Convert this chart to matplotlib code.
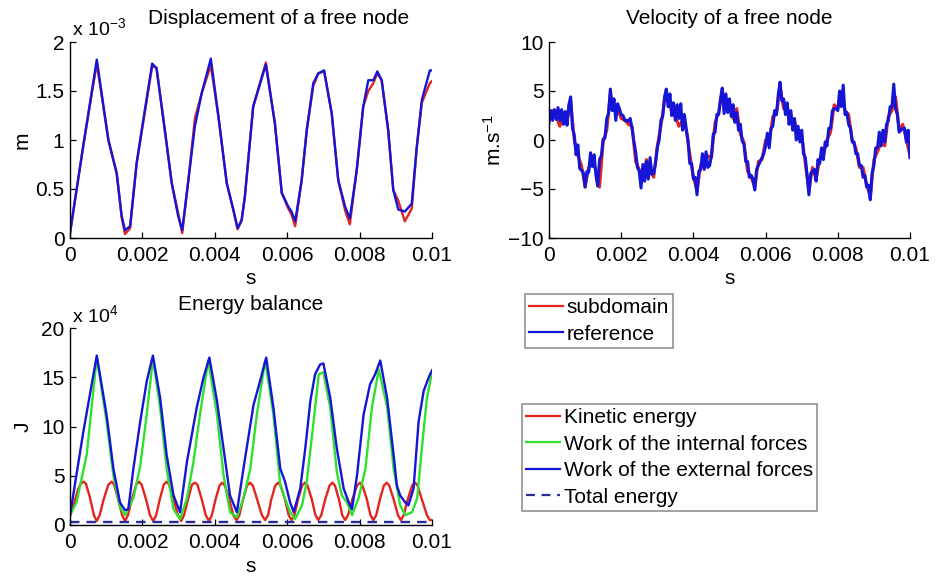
import numpy as np
import matplotlib
matplotlib.use("Agg")
import matplotlib.pyplot as plt
from matplotlib.ticker import FixedLocator, FixedFormatter

plt.rcParams['font.family'] = ['Liberation Sans', 'DejaVu Sans']
plt.rcParams['mathtext.fontset'] = 'custom'
plt.rcParams['mathtext.rm'] = 'Liberation Sans'
plt.rcParams['mathtext.it'] = 'Liberation Sans'

# ---------------- data (time in ms) ----------------
disp_t_ms = [0, 0.37, 0.74, 1.06, 1.29, 1.43, 1.52, 1.66, 1.84, 1.98,
             2.27, 2.39, 2.62, 2.81, 2.99, 3.10, 3.27, 3.45, 3.64, 3.89,
             4.10, 4.33, 4.51, 4.63, 4.74, 4.83, 5.06, 5.41, 5.66, 5.85,
             6.03, 6.12, 6.22, 6.40, 6.54, 6.72, 6.86, 7.02, 7.23, 7.41,
             7.60, 7.73, 7.92, 8.10, 8.24, 8.38, 8.49, 8.61, 8.79, 8.93,
             9.07, 9.25, 9.44, 9.58, 9.72, 9.94, 10.0]
disp_reference = [0.05, 0.95, 1.82, 1.0, 0.66, 0.22, 0.08, 0.12, 0.76, 1.1,
                  1.78, 1.73, 1.1, 0.56, 0.22, 0.08, 0.59, 1.14, 1.48, 1.83,
                  1.24, 0.56, 0.29, 0.10, 0.18, 0.42, 1.34, 1.77, 1.17, 0.46,
                  0.32, 0.27, 0.17, 0.59, 1.1, 1.58, 1.68, 1.71, 1.27, 0.59,
                  0.32, 0.20, 0.69, 1.34, 1.61, 1.61, 1.70, 1.61, 1.1, 0.49,
                  0.29, 0.27, 0.35, 0.93, 1.41, 1.71, 1.71]
disp_subdomain = [0.05, 0.95, 1.78, 1.0, 0.66, 0.20, 0.04, 0.10, 0.76, 1.08,
                  1.75, 1.74, 1.1, 0.56, 0.25, 0.05, 0.59, 1.22, 1.48, 1.76,
                  1.24, 0.56, 0.29, 0.09, 0.18, 0.42, 1.34, 1.79, 1.17, 0.46,
                  0.30, 0.24, 0.12, 0.59, 1.1, 1.55, 1.68, 1.70, 1.27, 0.59,
                  0.28, 0.14, 0.69, 1.34, 1.50, 1.58, 1.68, 1.61, 1.1, 0.49,
                  0.38, 0.17, 0.30, 0.93, 1.38, 1.58, 1.60]

vel_ref_t_ms = [i * 0.05 for i in range(201)]
vel_reference = [1.8, 3.0, 2.0, 3.1, 2.1, 3.3, 2.0, 3.1, 1.6, 2.9,
                 1.5, 3.6, 4.4, 1.2, 0.5, -1.5, -0.5, -2.9, -3.1, -3.3,
                 -4.8, -3.2, -3.3, -1.3, -2.7, -1.5, -3.6, -4.7, -2.0, -1.6,
                 0.1, 0.2, 2.2, 2.7, 5.2, 3.0, 4.2, 2.0, 3.7, 3.2,
                 2.6, 2.5, 2.0, 2.0, 1.9, 2.2, 1.2, -0.1, -1.2, -2.8,
                 -3.2, -4.9, -2.5, -4.2, -2.2, -4.0, -1.8, -3.5, -3.4, -2.4,
                 -0.8, 0.0, 2.0, 2.4, 4.4, 5.2, 3.4, 4.7, 2.5, 3.8,
                 2.0, 3.6, 2.2, 3.7, 1.0, 2.6, 1.2, 0.0, -2.4, -2.4,
                 -4.0, -3.8, -5.6, -3.2, -3.0, -1.4, -3.0, -1.2, -2.8, -2.6,
                 -1.6, 0.6, 0.8, 2.6, 2.6, 4.2, 5.3, 2.7, 4.7, 2.8,
                 4.2, 2.4, 3.6, 1.8, 2.8, 1.0, 1.6, -0.1, -0.4, -2.2,
                 -2.2, -3.8, -3.6, -4.0, -5.1, -3.0, -2.6, -2.2, -1.8, -1.4,
                 -0.6, 0.7, -0.8, 1.2, 1.4, 3.0, 2.6, 4.6, 5.9, 4.0,
                 4.2, 2.6, 3.8, 1.6, 3.0, 1.0, 2.2, 0.0, 1.4, -0.2,
                 1.0, -1.4, -1.8, -3.6, -5.6, -3.4, -3.2, -3.0, -4.2, -2.0,
                 -2.4, -0.8, -2.0, -0.2, -0.6, 1.2, 1.2, 3.0, 3.2, 3.2,
                 3.0, 5.0, 3.4, 5.6, 2.6, 2.8, 1.6, 1.2, -0.2, -0.2,
                 -1.4, -1.4, -2.6, -2.6, -3.8, -3.6, -4.8, -4.6, -6.1, -3.4,
                 -2.6, -0.8, -0.8, 0.8, -0.6, 1.0, -0.2, 1.6, 2.0, 3.4,
                 3.4, 5.7, 3.2, 2.6, 0.8, 1.0, 1.2, 1.2, -0.2, 1.0,
                 -1.8]
vel_sub_t_ms = [i * 0.1 for i in range(101)]
vel_subdomain = [2.2, 3.0, 2.4, 1.4, 2.8, 2.0, 4.0, 0.0, -1.6, -2.6,
                 -4.8, -2.8, -2.4, -3.0, -4.8, -0.2, 1.0, 4.8, 3.0, 3.2,
                 2.2, 2.0, 1.6, 1.4, -2.2, -3.0, -3.8, -2.0, -3.2, -3.8,
                 -0.6, 1.4, 4.0, 4.6, 2.8, 2.4, 1.4, 2.0, 1.0, -1.4,
                 -3.8, -5.2, -2.6, -2.8, -1.6, -1.8, 1.8, 2.8, 5.0, 3.4,
                 3.4, 2.2, 3.2, 0.6, -0.2, -3.2, -3.8, -4.8, -2.2, -2.0,
                 0.0, -0.2, 2.4, 2.6, 5.4, 3.2, 3.2, 1.8, 2.0, 0.4,
                 0.6, -2.4, -5.2, -2.8, -4.0, -2.0, -1.6, 0.0, 0.8, 3.6,
                 3.2, 4.8, 3.0, 2.6, 0.0, -0.8, -2.8, -2.8, -4.6, -5.8,
                 -2.0, -1.2, -0.2, -0.6, 2.4, 3.0, 4.4, 1.0, 1.6, 0.0,
                 -1.6]

kin_t_ms = [0.00, 0.10, 0.22, 0.30, 0.37, 0.44, 0.55, 0.66, 0.74, 0.82,
            0.93, 1.06, 1.15, 1.22, 1.33, 1.44, 1.52, 1.60, 1.71, 1.83,
            1.91, 1.98, 2.10, 2.21, 2.30, 2.38, 2.48, 2.59, 2.67, 2.74,
            2.86, 2.98, 3.07, 3.15, 3.26, 3.37, 3.45, 3.52, 3.64, 3.75,
            3.84, 3.92, 4.02, 4.13, 4.21, 4.28, 4.40, 4.51, 4.60, 4.68,
            4.78, 4.89, 4.97, 5.05, 5.17, 5.30, 5.39, 5.47, 5.56, 5.67,
            5.75, 5.82, 5.94, 6.04, 6.12, 6.20, 6.30, 6.41, 6.49, 6.56,
            6.68, 6.78, 6.86, 6.94, 7.05, 7.17, 7.25, 7.32, 7.43, 7.52,
            7.60, 7.68, 7.80, 7.93, 8.01, 8.08, 8.20, 8.30, 8.38, 8.46,
            8.56, 8.67, 8.75, 8.82, 8.94, 9.06, 9.14, 9.22, 9.33, 9.45,
            9.53, 9.60, 9.72, 9.86, 9.94, 10.00]
kinetic_energy = [0.9, 2.0, 3.6, 4.2, 4.4, 4.2, 2.8, 1.0, 0.4, 1.0,
                  2.6, 4.1, 4.4, 4.1, 2.6, 1.0, 0.4, 1.0, 2.6, 4.1,
                  4.4, 4.1, 2.6, 1.0, 0.4, 1.0, 2.6, 4.1, 4.4, 4.1,
                  2.6, 1.0, 0.4, 1.0, 2.6, 4.1, 4.3, 4.1, 2.6, 1.0,
                  0.4, 1.0, 2.6, 4.0, 4.3, 4.0, 2.6, 1.0, 0.5, 1.0,
                  2.6, 4.0, 4.3, 4.0, 2.6, 1.0, 0.5, 1.0, 2.6, 4.0,
                  4.3, 4.0, 2.6, 1.0, 0.5, 1.0, 2.6, 4.0, 4.3, 4.0,
                  2.6, 1.0, 0.5, 1.0, 2.6, 4.0, 4.3, 4.0, 2.6, 1.0,
                  0.5, 1.0, 2.6, 4.0, 4.3, 4.0, 2.6, 1.0, 0.5, 1.0,
                  2.6, 4.0, 4.3, 4.0, 2.6, 1.0, 0.5, 1.0, 2.6, 4.0,
                  4.3, 4.0, 2.6, 1.0, 0.5, 0.5]

int_t_ms = [0, 0.18, 0.46, 0.74, 1.01, 1.20, 1.38, 1.52, 1.75, 1.94,
            2.12, 2.29, 2.49, 2.67, 2.86, 3.04, 3.23, 3.41, 3.59, 3.82,
            4.06, 4.24, 4.42, 4.61, 4.79, 4.98, 5.16, 5.39, 5.62, 5.81,
            5.94, 6.08, 6.22, 6.41, 6.54, 6.73, 6.87, 7.00, 7.19, 7.37,
            7.51, 7.65, 7.79, 7.97, 8.16, 8.34, 8.53, 8.76, 8.94, 9.12,
            9.26, 9.45, 9.59, 9.72, 9.86, 10.0]
internal_work = [1.0, 2.3, 7.1, 17.0, 10.5, 5.0, 1.8, 1.0, 2.7, 6.0,
                 11.2, 16.9, 11.9, 5.7, 1.6, 0.6, 2.7, 6.4, 11.2, 16.7,
                 11.2, 5.1, 1.3, 0.8, 2.7, 5.7, 11.2, 16.7, 11.2, 4.0,
                 2.7, 1.3, 0.6, 2.0, 4.4, 10.5, 15.3, 15.5, 11.9, 5.4,
                 3.0, 2.3, 1.0, 2.7, 5.7, 11.9, 15.8, 12.0, 5.7, 2.0,
                 1.0, 1.3, 2.7, 7.8, 12.9, 15.5]

ext_t_ms = [0, 0.37, 0.74, 1.01, 1.20, 1.38, 1.52, 1.61, 1.75, 1.94,
            2.12, 2.29, 2.49, 2.67, 2.86, 3.04, 3.23, 3.50, 3.69, 3.85,
            4.06, 4.24, 4.42, 4.61, 4.79, 5.07, 5.25, 5.42, 5.62, 5.81,
            5.94, 6.08, 6.18, 6.36, 6.50, 6.64, 6.77, 6.91, 7.00, 7.19,
            7.37, 7.56, 7.70, 7.79, 7.93, 8.11, 8.29, 8.43, 8.57, 8.76,
            8.94, 9.03, 9.12, 9.26, 9.35, 9.49, 9.63, 9.77, 9.91, 10.0]
external_work = [1.0, 9.5, 17.2, 11.2, 5.7, 2.3, 1.5, 1.6, 5.7, 10.5,
                 14.6, 17.2, 12.9, 7.1, 3.0, 1.3, 6.4, 11.9, 15.0, 17.0,
                 12.6, 7.8, 3.0, 1.3, 5.7, 12.2, 14.6, 17.0, 11.9, 5.7,
                 4.4, 2.3, 1.3, 3.7, 7.8, 12.6, 15.3, 16.3, 16.4, 12.9,
                 7.8, 3.7, 2.3, 1.6, 5.1, 11.2, 14.3, 15.3, 16.7, 12.9,
                 7.1, 4.0, 3.0, 2.3, 2.0, 3.7, 10.5, 13.6, 15.0, 15.7]

tot_t_ms = [0, 10.0]
total_energy = [0.3, 0.3]

xticks = [0, 0.002, 0.004, 0.006, 0.008, 0.01]
xticklabels = ['0', '0.002', '0.004', '0.006', '0.008', '0.01']

# ---------------- styling ----------------
RED = '#e3241f'
BLUE = '#1515d8'
GREEN = '#2fe02f'
DASH = '#2a2a9a'
FS = 15

fig = plt.figure(figsize=(9.4, 5.76), dpi=100)
W, H = 940.0, 576.0


def make_ax(l, t, r, b):
    ax = fig.add_axes([l / W, 1 - b / H, (r - l) / W, (b - t) / H])
    for s in ['top', 'right']:
        ax.spines[s].set_visible(False)
    for s in ['left', 'bottom']:
        ax.spines[s].set_linewidth(1.0)
    ax.tick_params(direction='in', length=4, width=0.9, labelsize=FS, pad=4)
    ax.tick_params(axis='x', pad=6)
    ax.set_xlim(0, 0.01)
    ax.xaxis.set_major_locator(FixedLocator(xticks))
    ax.xaxis.set_major_formatter(FixedFormatter(xticklabels))
    ax.set_xlabel('s', fontsize=FS, labelpad=3)
    return ax


def ms(v):
    return np.asarray(v) * 1e-3


# Displacement
ax1 = make_ax(70, 42, 432, 238)
ax1.plot(ms(disp_t_ms), disp_subdomain, color=RED, lw=1.7)
ax1.plot(ms(disp_t_ms), disp_reference, color=BLUE, lw=1.7)
ax1.set_ylim(0, 2)
ax1.set_yticks([0, 0.5, 1, 1.5, 2])
ax1.set_yticklabels(['0', '0.5', '1', '1.5', '2'])
ax1.set_ylabel('m', fontsize=FS, labelpad=3)
ax1.set_title('Displacement of a free node', fontsize=FS, x=0.575, pad=13)
ax1.text(0.005, 1.035, r'x 10$^{-3}$', transform=ax1.transAxes,
         fontsize=FS - 1, ha='left', va='baseline')

# Velocity
ax2 = make_ax(549, 42, 910, 238)
l_sub, = ax2.plot(ms(vel_sub_t_ms), vel_subdomain, color=RED, lw=2.2)
l_ref, = ax2.plot(ms(vel_ref_t_ms), vel_reference, color=BLUE, lw=2.2)
ax2.set_ylim(-10, 10)
ax2.set_yticks([-10, -5, 0, 5, 10])
ax2.set_yticklabels(['\u221210', '\u22125', '0', '5', '10'])
ax2.set_ylabel(r'm.s$^{-1}$', fontsize=FS, labelpad=2)
ax2.set_title('Velocity of a free node', fontsize=FS, pad=13)

# Energy
ax3 = make_ax(70, 328, 432, 525)
l_kin, = ax3.plot(ms(kin_t_ms), kinetic_energy, color=RED, lw=1.7)
l_int, = ax3.plot(ms(int_t_ms), internal_work, color=GREEN, lw=1.7)
l_ext, = ax3.plot(ms(ext_t_ms), external_work, color=BLUE, lw=1.7)
l_tot, = ax3.plot(ms(tot_t_ms), total_energy, color=DASH, lw=1.7,
                  linestyle=(0, (4, 3)))
ax3.set_ylim(0, 20)
ax3.set_yticks([0, 5, 10, 15, 20])
ax3.set_yticklabels(['0', '5', '10', '15', '20'])
ax3.set_ylabel('J', fontsize=FS, labelpad=6)
ax3.set_title('Energy balance', fontsize=FS, pad=13)
ax3.text(0.005, 1.03, r'x 10$^{4}$', transform=ax3.transAxes,
         fontsize=FS - 1, ha='left', va='baseline')

leg_kw = dict(loc='upper left', fontsize=FS, frameon=True, fancybox=False,
              borderaxespad=0, borderpad=0.2, handlelength=1.6,
              handletextpad=0.2, labelspacing=0.36)
lg1 = fig.legend([l_sub, l_ref], ['subdomain', 'reference'],
                 bbox_to_anchor=(525 / W, 1 - 294 / H), **leg_kw)
lg2 = fig.legend([l_kin, l_int, l_ext, l_tot],
                 ['Kinetic energy', 'Work of the internal forces',
                  'Work of the external forces', 'Total energy'],
                 bbox_to_anchor=(522 / W, 1 - 404 / H), **leg_kw)
for lg in (lg1, lg2):
    fr = lg.get_frame()
    fr.set_edgecolor('#777777')
    fr.set_linewidth(1.2)
for ln in lg1.get_lines() + lg2.get_lines():
    ln.set_linewidth(1.6)

fig.savefig('out.png', dpi=100)
